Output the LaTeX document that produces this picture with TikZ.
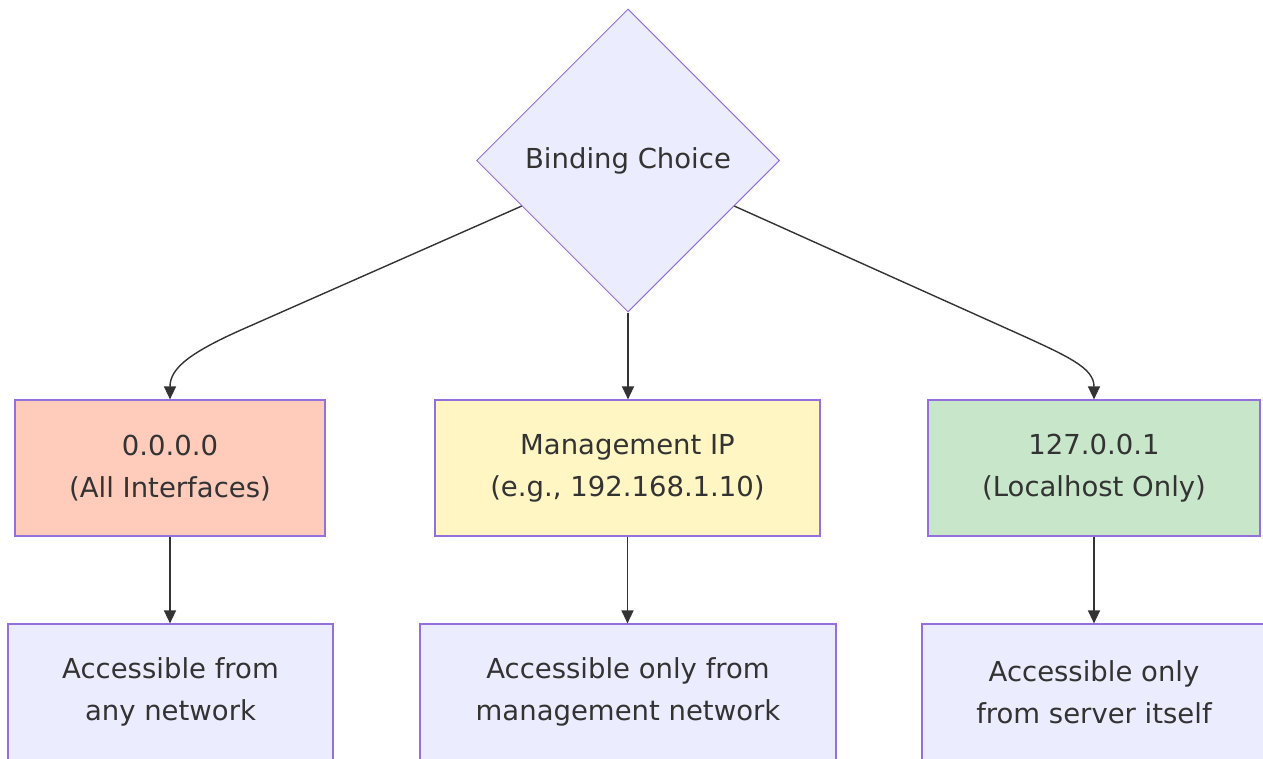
\documentclass[tikz,border=0pt]{standalone}
\usepackage{fontspec}
\setmainfont{DejaVu Sans}
\usetikzlibrary{shapes.geometric,arrows.meta,calc}
\definecolor{lav}{HTML}{ECECFF}
\definecolor{lavline}{HTML}{9370DB}
\definecolor{salmon}{HTML}{FFCCBC}
\definecolor{paleyellow}{HTML}{FFF6C4}
\definecolor{palegreen}{HTML}{C8E6C9}
\definecolor{txt}{HTML}{333333}
\tikzset{
  lbl/.style={font=\fontsize{27.5}{42}\selectfont, text=txt, align=center},
  boxnode/.style={lbl, rectangle, draw=lavline, line width=1.2pt, minimum height=136pt, inner sep=0pt},
  decision/.style={lbl, diamond, aspect=1, draw=lavline, line width=1pt, fill=lav, minimum width=303pt, minimum height=303pt, inner sep=0pt},
  edge/.style={draw=txt, line width=1.4pt, -{Triangle[length=13pt,width=12pt]}}
}
\begin{document}
\begin{tikzpicture}[x=1pt,y=1pt]
\useasboundingbox (0,0) rectangle (1263,-758);
\clip (0,0) rectangle (1263,-758);
\fill[white] (0,0) rectangle (1263,-758);

\node[decision] (choice) at (628,-160.5) {Binding Choice};

\node[boxnode, fill=salmon, minimum width=310pt] (b1) at (170,-468) {0.0.0.0\\(All Interfaces)};
\node[boxnode, fill=paleyellow, minimum width=385pt] (b2) at (627.5,-468) {Management IP\\(e.g., 192.168.1.10)};
\node[boxnode, fill=palegreen, minimum width=332pt] (b3) at (1094,-468) {127.0.0.1\\(Localhost Only)};

\node[boxnode, fill=lav, minimum width=325pt] (c1) at (170.5,-692) {Accessible from\\any network};
\node[boxnode, fill=lav, minimum width=416pt] (c2) at (628,-692) {Accessible only from\\management network};
\node[boxnode, fill=lav, minimum width=344pt] (c3) at (1094,-692) {Accessible only\\from server itself};

\coordinate (l0) at ($(choice.west)!0.3!(choice.south)$);
\coordinate (r0) at ($(choice.east)!0.3!(choice.south)$);
\coordinate (l1) at (250,-326);
\coordinate (r1) at (1010,-330);

\draw[edge] (l0) -- (l1) .. controls (190,-352) and (170,-368) .. (b1.north);
\draw[edge] (r0) -- (r1) .. controls (1070,-357) and (1094,-368) .. (b3.north);
\draw[edge] (choice.south) -- (choice.south |- b2.north);

\draw[edge] (b1.south) -- (b1.south |- c1.north);
\draw[edge] (b2.south) -- (b2.south |- c2.north);
\draw[edge] (b3.south) -- (b3.south |- c3.north);
\end{tikzpicture}
\end{document}
